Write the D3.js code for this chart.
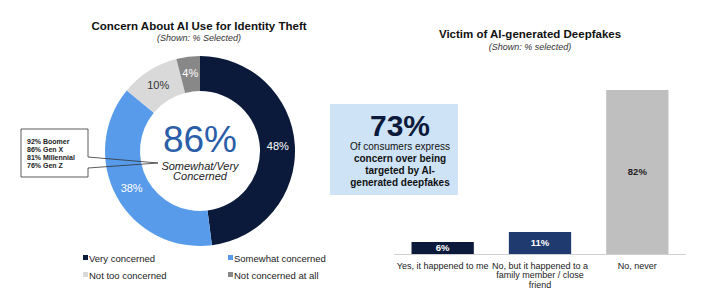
<!DOCTYPE html>
<html><head><meta charset="utf-8">
<script src="https://cdn.jsdelivr.net/npm/d3@7"></script>
<style>
body{margin:0;background:#fff;font-family:"Liberation Sans",Arial,sans-serif;}
svg{display:block;}
</style></head><body>
<svg id="c" width="723" height="301"></svg>
<script>
// Donut data
const donutCats = ["Very concerned","Somewhat concerned","Not too concerned","Not concerned at all"];
const donutVals = [48,38,10,4];
const donutColors = ["#0b1a3b","#579bea","#d9d9d9","#888888"];
const donutLabelColors = ["#ffffff","#ffffff","#333333","#ffffff"];
const genLines = ["92% Boomer","86% Gen X","81% Millennial","76% Gen Z"];
// Bar data
const barCats = [["Yes, it happened to me"],["No, but it happened to a","family member / close","friend"],["No, never"]];
const barVals = [6,11,82];
const barColors = ["#0b1a3b","#1f3a6e","#bfbfbf"];
const barLabelColors = ["#ffffff","#ffffff","#222222"];

const svg = d3.select("#c");

// Left titles
svg.append("text").attr("x",199).attr("y",30).attr("text-anchor","middle")
  .attr("font-size",11.5).attr("font-weight","bold").attr("fill","#111").text("Concern About AI Use for Identity Theft");
svg.append("text").attr("x",199).attr("y",41).attr("text-anchor","middle")
  .attr("font-size",9).attr("font-style","italic").attr("fill","#333").text("(Shown: % Selected)");

// Donut
const cx=200, cy=151, ro=95, ri=60;
const pie = d3.pie().sort(null).value(d=>d)(donutVals);
const arc = d3.arc().innerRadius(ri).outerRadius(ro);
const g = svg.append("g").attr("transform",`translate(${cx},${cy})`);
g.selectAll("path").data(pie).join("path").attr("d",arc).attr("fill",(d,i)=>donutColors[i]);
const larc = d3.arc().innerRadius(78).outerRadius(78);
g.selectAll("text.l").data(pie).join("text").attr("class","l")
  .attr("transform",d=>`translate(${larc.centroid(d)})`).attr("dy","0.35em")
  .attr("text-anchor","middle").attr("font-size",11).attr("fill",(d,i)=>donutLabelColors[i])
  .text(d=>d.value+"%");
g.append("text").attr("y",1).attr("text-anchor","middle").attr("font-size",37).attr("fill","#2a5ea8").text("86%");
g.append("text").attr("y",18.5).attr("text-anchor","middle").attr("font-size",11).attr("font-style","italic").attr("fill","#222").text("Somewhat/Very");
g.append("text").attr("y",29).attr("text-anchor","middle").attr("font-size",11).attr("font-style","italic").attr("fill","#222").text("Concerned");

// Callout
svg.append("path").attr("d","M88,157 L88,129 L21,129 L21,177 L88,177 L88,168")
  .attr("fill","#fff").attr("stroke","#333").attr("stroke-width",0.8);
svg.append("path").attr("d","M88,157 L158,163 L88,168").attr("fill","none").attr("stroke","#333").attr("stroke-width",0.8);
svg.selectAll("text.gen").data(genLines).join("text").attr("class","gen")
  .attr("x",27).attr("y",(d,i)=>143.5+i*8).attr("font-size",7).attr("font-weight","bold").attr("fill","#222").text(d=>d);

// Legend
const legPos=[[83,258],[228,258],[83,275],[228,275]];
donutCats.forEach((c,i)=>{
  svg.append("rect").attr("x",legPos[i][0]).attr("y",legPos[i][1]-3).attr("width",5).attr("height",5).attr("fill",donutColors[i]);
  svg.append("text").attr("x",legPos[i][0]+6).attr("y",legPos[i][1]+3.5).attr("font-size",9.5).attr("fill","#222").text(c);
});

// Right titles
svg.append("text").attr("x",530).attr("y",38).attr("text-anchor","middle")
  .attr("font-size",11.5).attr("font-weight","bold").attr("fill","#111").text("Victim of AI-generated Deepfakes");
svg.append("text").attr("x",530).attr("y",50).attr("text-anchor","middle")
  .attr("font-size",9).attr("font-style","italic").attr("fill","#333").text("(Shown: % selected)");

// Blue box
svg.append("rect").attr("x",330).attr("y",104).attr("width",128).attr("height",91).attr("fill","#cfe3f7");
svg.append("text").attr("x",400).attr("y",136).attr("text-anchor","middle").attr("font-size",30).attr("font-weight","bold").attr("fill","#0b1a3b").text("73%");
const boxLines=[["Of consumers express","normal"],["concern over being","bold"],["targeted by AI-","bold"],["generated deepfakes","bold"]];
boxLines.forEach((l,i)=>{
  svg.append("text").attr("x",400).attr("y",149.5+i*12).attr("text-anchor","middle").attr("font-size",10)
    .attr("font-weight",l[1]).attr("fill","#111").text(l[0]);
});

// Bars
const x = d3.scaleBand().domain(barCats.map((d,i)=>i)).range([394,686]).paddingInner(0.36).paddingOuter(0.18);
const y = d3.scaleLinear().domain([0,100]).range([254,54]);
svg.selectAll("rect.bar").data(barVals).join("rect").attr("class","bar")
  .attr("x",(d,i)=>x(i)).attr("y",d=>y(d)).attr("width",x.bandwidth()).attr("height",d=>y(0)-y(d))
  .attr("fill",(d,i)=>barColors[i]);
svg.selectAll("text.bl").data(barVals).join("text").attr("class","bl")
  .attr("x",(d,i)=>x(i)+x.bandwidth()/2).attr("y",d=>(y(d)+y(0))/2).attr("dy","0.35em")
  .attr("text-anchor","middle").attr("font-size",9.5).attr("font-weight","bold")
  .attr("fill",(d,i)=>barLabelColors[i]).text(d=>d+"%");
svg.append("line").attr("x1",394).attr("x2",686).attr("y1",254.5).attr("y2",254.5).attr("stroke","#d0d0d0").attr("stroke-width",1);
barCats.forEach((lines,i)=>{
  lines.forEach((t,j)=>{
    svg.append("text").attr("x",x(i)+x.bandwidth()/2).attr("y",268.5+j*9.7).attr("text-anchor","middle")
      .attr("font-size",9).attr("fill","#222").text(t);
  });
});
</script>
</body></html>
